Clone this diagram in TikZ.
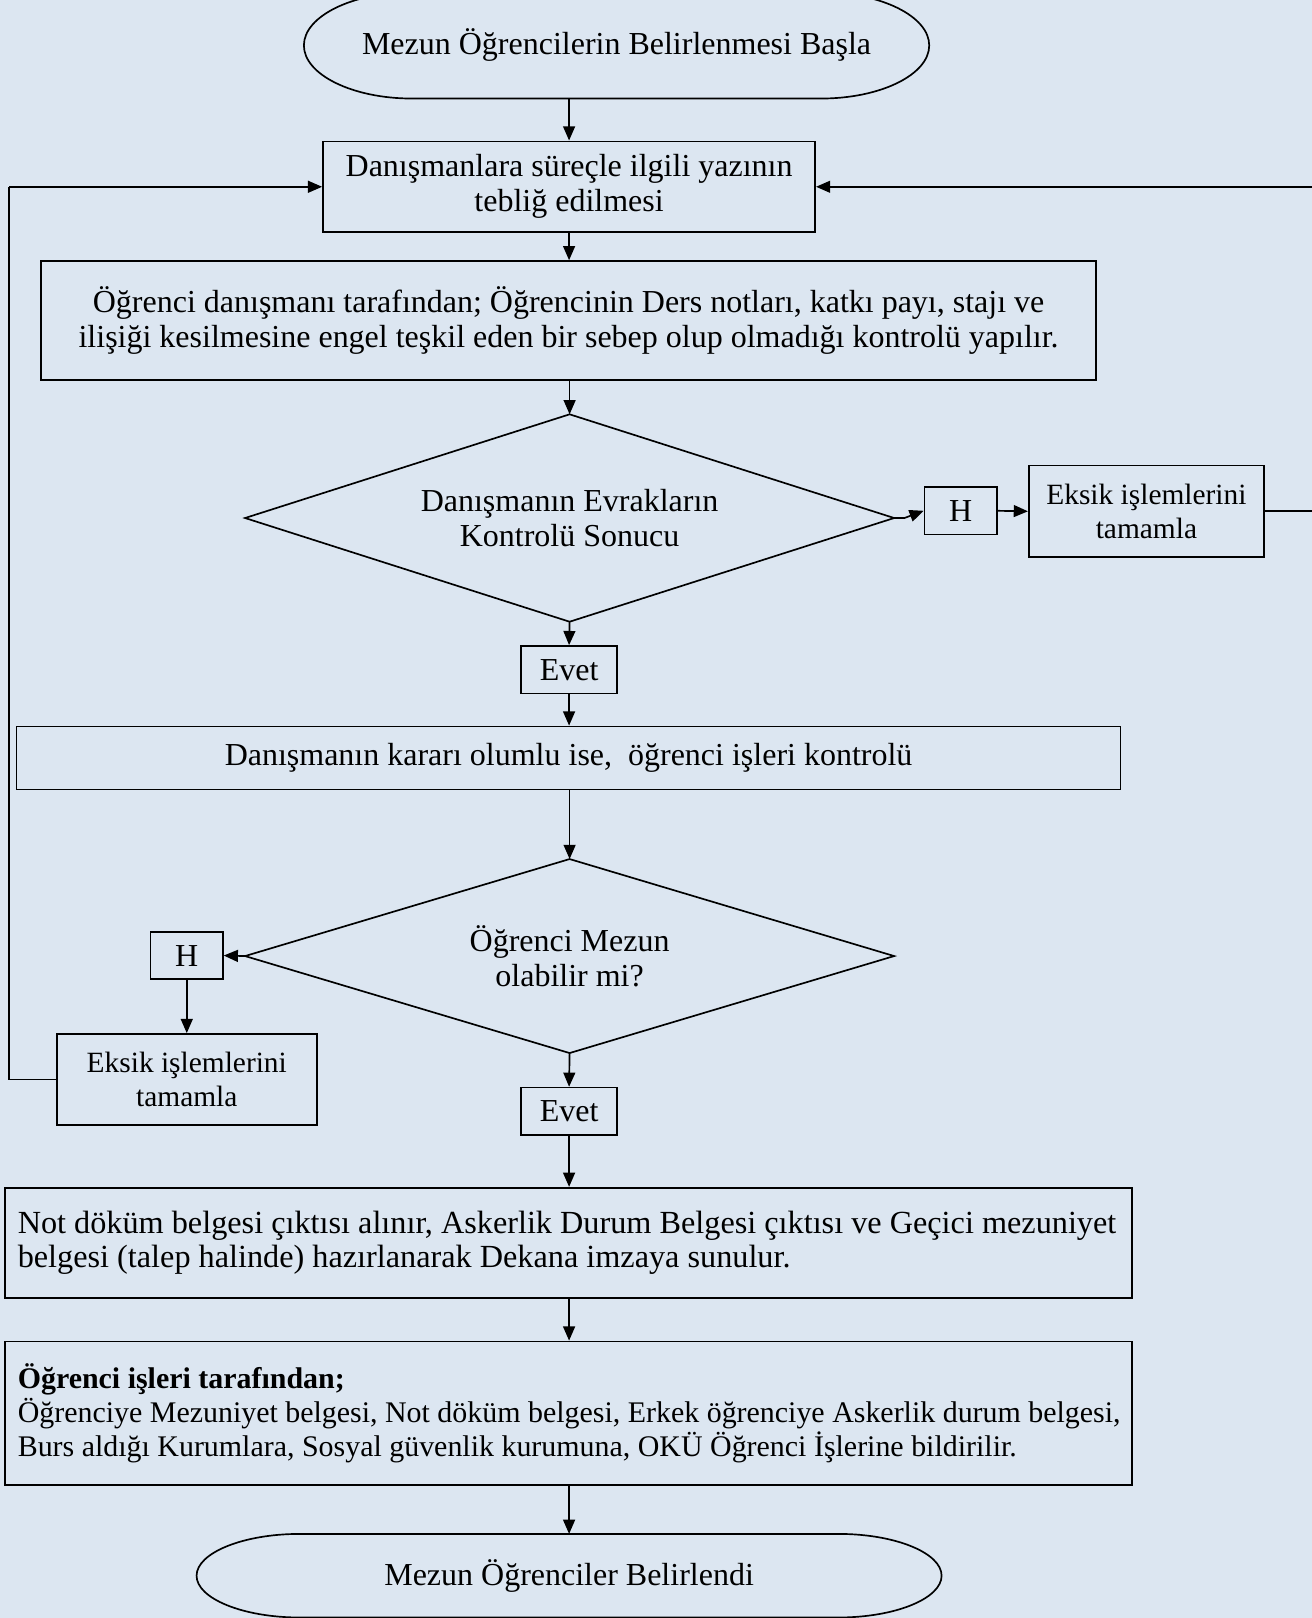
\documentclass[tikz,border=0pt]{standalone}
\usepackage{fontspec}
\setmainfont{Liberation Serif}
\usetikzlibrary{arrows.meta}
\definecolor{bgblue}{RGB}{220,230,241}
\begin{document}
\begin{tikzpicture}[x=0.4pt,y=-0.4pt,
  every node/.style={font=\fontsize{12.4pt}{13.6pt}\selectfont, inner sep=0pt},
  box/.style={draw, line width=0.65pt, align=center},
  term/.style={align=center},
  dec/.style={align=center, inner sep=0pt},
  small/.style={font=\fontsize{11.4pt}{13.2pt}\selectfont},
  conn/.style={line width=0.65pt, -{Triangle[length=5.5pt,width=4.6pt]}},
  plain/.style={line width=0.65pt}]
\fill[bgblue] (0,0) rectangle (1271,1568);
\useasboundingbox (0,0) rectangle (1271,1568);

\node[term, minimum width=242pt, minimum height=40.8pt] (start) at (597.5,44) {Mezun Öğrencilerin Belirlenmesi Başla};
\draw[plain] ([xshift=42pt]start.north west) -- ([xshift=-42pt]start.north east)
  .. controls +(23.2pt,0pt) and +(0pt,11.3pt) .. (start.east)
  .. controls +(0pt,-11.3pt) and +(23.2pt,0pt) .. ([xshift=-42pt]start.south east)
  -- ([xshift=42pt]start.south west)
  .. controls +(-23.2pt,0pt) and +(0pt,-11.3pt) .. (start.west)
  .. controls +(0pt,11.3pt) and +(-23.2pt,0pt) .. cycle;

\node[box, minimum width=190.8pt, minimum height=35.2pt] (b1) at (551.5,181) {Danışmanlara süreçle ilgili yazının\\tebliğ edilmesi};
\node[box, minimum width=408.8pt, minimum height=46pt] (b2) at (551,310.5) {Öğrenci danışmanı tarafından; Öğrencinin Ders notları, katkı payı, stajı ve\\ilişiği kesilmesine engel teşkil eden bir sebep olup olmadığı kontrolü yapılır.};

\node[dec, minimum width=251.2pt, minimum height=80pt] (d1) at (552,502) {Danışmanın Evrakların\\Kontrolü Sonucu};
\draw[plain] (d1.north) -- (d1.east) -- (d1.south) -- (d1.west) -- cycle;

\node[box, minimum width=28pt, minimum height=18.4pt] (h1) at (931,495) {H};
\node[box, small, minimum width=91.2pt, minimum height=35.6pt] (e1) at (1111,495.5) {Eksik işlemlerini\\tamamla};
\node[box, minimum width=37.2pt, minimum height=18.4pt] (ev1) at (551.5,649) {Evet};
\node[box, minimum width=428pt, minimum height=24.4pt] (b3) at (551,734.5) {Danışmanın kararı olumlu ise, \ öğrenci işleri kontrolü};

\node[dec, minimum width=251.2pt, minimum height=74.8pt] (d2) at (552,926.5) {Öğrenci Mezun\\olabilir mi?};
\draw[plain] (d2.north) -- (d2.east) -- (d2.south) -- (d2.west) -- cycle;

\node[box, minimum width=28pt, minimum height=18.4pt] (h2) at (181,926) {H};
\node[box, small, minimum width=100.8pt, minimum height=35.2pt] (e2) at (181,1046) {Eksik işlemlerini\\tamamla};
\node[box, minimum width=37.2pt, minimum height=18.4pt] (ev2) at (551.5,1077) {Evet};
\node[box, minimum width=436.8pt, minimum height=42.8pt, align=left, font=\fontsize{12.5pt}{13.4pt}\selectfont] (b4) at (551,1204.5) {\parbox{427pt}{\mbox{Not döküm belgesi çıktısı alınır, Askerlik Durum Belgesi çıktısı ve Geçici mezuniyet}\\\mbox{belgesi (talep halinde) hazırlanarak Dekana imzaya sunulur.}}};
\node[box, minimum width=436.8pt, minimum height=55.6pt, align=left, font=\fontsize{11.6pt}{13.2pt}\selectfont] (b5) at (551,1369.5) {\parbox{427pt}{\mbox{\textbf{Öğrenci işleri tarafından;}}\\\mbox{Öğrenciye Mezuniyet belgesi, Not döküm belgesi, Erkek öğrenciye Askerlik durum belgesi,}\\\mbox{Burs aldığı Kurumlara, Sosyal güvenlik kurumuna, OKÜ Öğrenci İşlerine bildirilir.}}};

\node[term, minimum width=288.4pt, minimum height=32pt] (end) at (551.5,1527) {Mezun Öğrenciler Belirlendi};
\draw[plain] ([xshift=40pt]end.north west) -- ([xshift=-40pt]end.north east)
  .. controls +(22.1pt,0pt) and +(0pt,8.8pt) .. (end.east)
  .. controls +(0pt,-8.8pt) and +(22.1pt,0pt) .. ([xshift=-40pt]end.south east)
  -- ([xshift=40pt]end.south west)
  .. controls +(-22.1pt,0pt) and +(0pt,-8.8pt) .. (end.west)
  .. controls +(0pt,8.8pt) and +(-22.1pt,0pt) .. cycle;

\coordinate (lx) at (9,0);
\coordinate (rx) at (1295,0);

\draw[conn] (b1.north |- start.south) -- (b1.north);
\draw[conn] (b1.south) -- (b2.north -| b1.south);
\draw[conn] (b2.south -| d1.north) -- (d1.north);
\draw[conn] (d1.east) -- ++(10,0) -- (h1.west);
\draw[conn] (h1.east) -- (e1.west);
\draw[plain] (e1.east) -- (e1.east -| rx) -- (b1.east -| rx);
\draw[conn] (b1.east -| rx) -- (b1.east);
\draw[conn] (d1.south) -- (ev1.north);
\draw[conn] (ev1.south) -- (b3.north -| ev1.south);
\draw[conn] (b3.south -| d2.north) -- (d2.north);
\draw[conn] (d2.west) -- (h2.east);
\draw[conn] (h2.south) -- (e2.north);
\draw[plain] (e2.west) -- (e2.west -| lx) -- (b1.west -| lx);
\draw[conn] (b1.west -| lx) -- (b1.west);
\draw[conn] (d2.south) -- (ev2.north);
\draw[conn] (ev2.south) -- (b4.north -| ev2.south);
\draw[conn] (b4.south -| ev2.south) -- (b5.north -| ev2.south);
\draw[conn] (b5.south -| ev2.south) -- (end.north -| ev2.south);
\end{tikzpicture}
\end{document}
